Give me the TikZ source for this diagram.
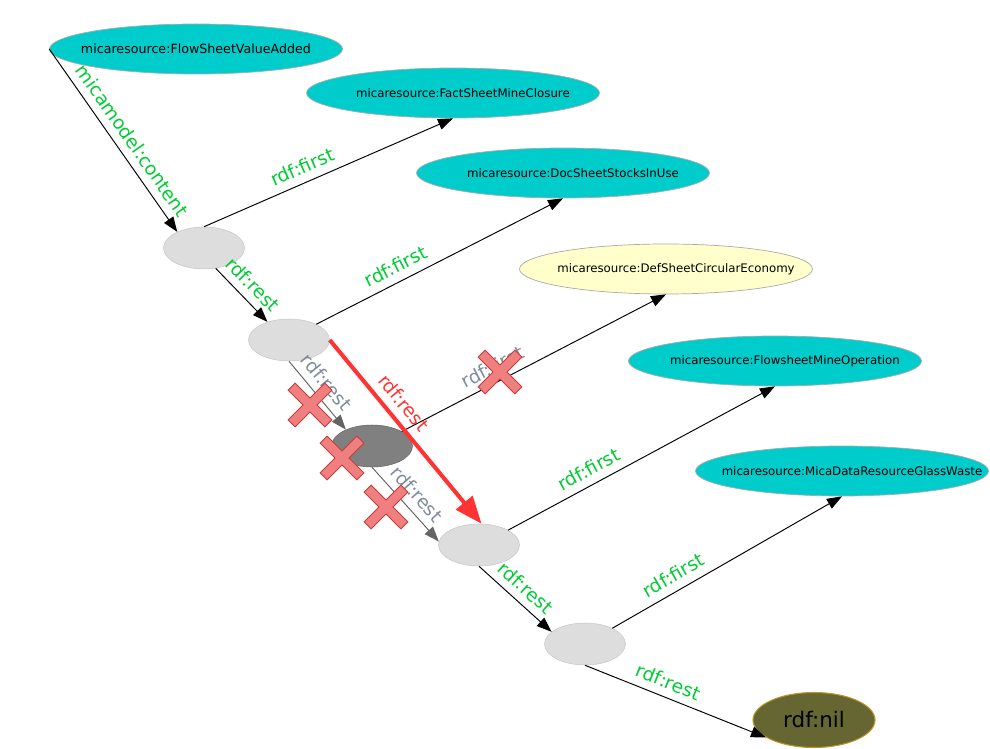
\documentclass[tikz,border=0pt]{standalone}
\usepackage{fontspec}
\setmainfont{DejaVu Sans}
\usetikzlibrary{arrows.meta, shapes.geometric}
\definecolor{rescyan}{RGB}{0,204,204}
\definecolor{resedge}{RGB}{170,170,170}
\definecolor{blankgray}{RGB}{221,221,221}
\definecolor{oldblankgray}{RGB}{128,128,128}
\definecolor{defyellow}{RGB}{255,255,204}
\definecolor{nilolive}{RGB}{102,102,51}
\definecolor{nilborder}{RGB}{190,150,40}
\definecolor{lblgreen}{RGB}{0,204,51}
\definecolor{oldlblgray}{RGB}{128,140,155}
\definecolor{oldlinegray}{RGB}{100,100,100}
\definecolor{newred}{RGB}{255,51,51}
\definecolor{crossfill}{RGB}{240,128,128}
\definecolor{crossline}{RGB}{200,60,60}

\begin{document}
\begin{tikzpicture}[x=0.02cm, y=-0.02cm,
    res/.style={ellipse, fill=rescyan, draw=resedge, line width=0.4pt,
      minimum width=5.86cm, minimum height=1cm, inner sep=0pt,
      font=\fontsize{6.7}{8}\selectfont},
    blank/.style={ellipse, fill=blankgray, draw=blankgray!90!black, line width=0.3pt,
      minimum width=1.62cm, minimum height=0.84cm, inner sep=0pt},
    link/.style={draw=black, line width=0.55pt, -{Triangle[length=0.3cm, width=0.22cm]}},
    oldlink/.style={draw=oldlinegray, line width=0.55pt, -{Triangle[length=0.3cm, width=0.22cm]}},
    newlink/.style={draw=newred, line width=2.3pt, -{Triangle[length=0.55cm, width=0.42cm]}},
    lbl/.style={sloped, above, text=lblgreen, font=\fontsize{10.6}{12}\selectfont, inner sep=4.5pt},
    oldlbl/.style={lbl, text=oldlblgray},
    newlbl/.style={lbl, text=newred},
    crossmark/.style={fill=crossfill, draw=crossline, line width=0.5pt, line join=miter}]

    \useasboundingbox (0,0) rectangle (990,749);

    % Resources (text sits a little right of the centre)
    \node[res, font=\fontsize{7.2}{8}\selectfont] (fsva) at (196,49)
      {\makebox[0pt]{micaresource:FlowSheetValueAdded}};
    \node[res] (fsmc)  at (453,93)  {\makebox[0pt]{\hspace{0.4cm}micaresource:FactSheetMineClosure}};
    \node[res] (dssiu) at (563,173) {\makebox[0pt]{\hspace{0.4cm}micaresource:DocSheetStocksInUse}};
    \node[res, fill=defyellow] (dsce) at (666,269)
      {\makebox[0pt]{\hspace{0.4cm}micaresource:DefSheetCircularEconomy}};
    \node[res] (fmo)   at (775,361) {\makebox[0pt]{\hspace{0.4cm}micaresource:FlowsheetMineOperation}};
    \node[res] (mdrgw) at (842,471)
      {\makebox[0pt]{\hspace{0.4cm}micaresource:MicaDataResourceGlassWaste}};

    % List cells
    \node[blank] (bn1) at (204,248) {};
    \node[blank] (bn2) at (289,340) {};
    \node[blank, fill=oldblankgray, draw=oldblankgray!80!black] (bnx) at (372,446) {};
    \node[blank] (bn3) at (479,545) {};
    \node[blank] (bn4) at (585,644) {};
    \node[ellipse, fill=nilolive, draw=nilborder, line width=0.6pt,
      minimum width=2.44cm, minimum height=1.1cm, inner sep=0pt,
      font=\fontsize{12.2}{14}\selectfont] (nil) at (814,720) {rdf:nil};

    % Kept links
    \draw[link] (fsva.west) -- node[lbl, pos=0.55] {micamodel:content} (bn1.149);
    \draw[link] (bn1.north) -- node[lbl, pos=0.42] {rdf:first} (fsmc.south);
    \draw[link] (bn1.-60) -- node[lbl, pos=0.5] {rdf:rest} (bn2.140);
    \draw[link] (bn2.30) -- node[lbl, pos=0.35] {rdf:first} (dssiu.south);
    \draw[link] (bn3.27) -- node[lbl, pos=0.33] {rdf:first} (fmo.south);
    \draw[link] (bn3.south) -- node[lbl, pos=0.5] {rdf:rest} (bn4.160);
    \draw[link] (bn4.30) -- node[lbl, pos=0.3] {rdf:first} (mdrgw.south);
    \draw[link] (bn4.south) -- node[lbl, pos=0.43] {rdf:rest} (nil.200);

    % Removed links
    \draw[oldlink] (bn2.south) -- node[oldlbl, pos=0.45] {rdf:rest} (bnx.148);
    \draw[link] (bnx.26) -- node[oldlbl, pos=0.37] {rdf:first} (dsce.south);
    \draw[oldlink] (bnx.south) -- node[oldlbl, pos=0.5] {rdf:rest} (bn3.175);

    % New link
    \draw[newlink] (bn2.east) -- node[newlbl, pos=0.4] {rdf:rest} (bn3.83);

    % Crosses
    \foreach \cx/\cy in {310/405, 342/458, 386/507, 500/372}
      \draw[crossmark, shift={(\cx,\cy)}, rotate=45]
        (-5,-26) -- (5,-26) -- (5,-5) -- (26,-5) -- (26,5) -- (5,5) --
        (5,26) -- (-5,26) -- (-5,5) -- (-26,5) -- (-26,-5) -- (-5,-5) -- cycle;
\end{tikzpicture}
\end{document}
